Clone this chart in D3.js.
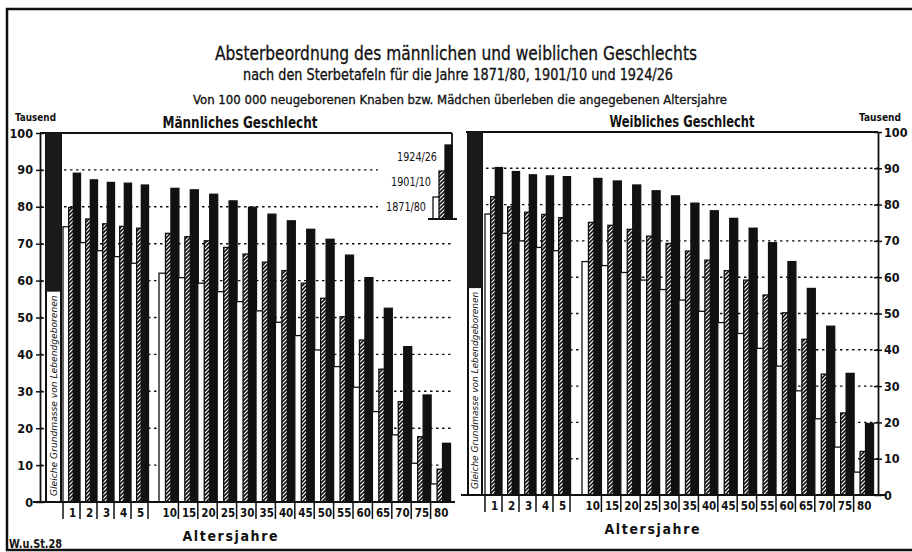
<!DOCTYPE html>
<html>
<head>
<meta charset="utf-8">
<script src="https://cdn.jsdelivr.net/npm/d3@7"></script>
<style>
  body { margin: 0; background: #fff; }
  svg { display: block; font-family: "DejaVu Sans Condensed", "DejaVu Sans", sans-serif; font-stretch: condensed; }
</style>
</head>
<body>
<svg></svg>
<script>
// ages shown under the bars, first five are single years
const ages = ["1", "2", "3", "4", "5", "10", "15", "20", "25", "30", "35", "40", "45", "50", "55", "60", "65", "70", "75", "80"];
const periods = ["1871/80", "1901/10", "1924/26"];
const yTicks = [0, 10, 20, 30, 40, 50, 60, 70, 80, 90, 100];

// survivors in thousand out of 100 000 newborn
const male1871 = [74.6, 70.3, 68.1, 66.5, 64.7, 62.0, 60.8, 59.3, 57.0, 54.3, 51.8, 48.7, 45.1, 41.2, 36.7, 31.1, 24.5, 18.2, 10.5, 4.9];
const male1901 = [79.8, 76.7, 75.4, 74.7, 74.2, 72.8, 71.9, 70.8, 69.0, 67.2, 65.0, 62.7, 59.3, 55.2, 50.2, 43.9, 36.0, 27.2, 17.7, 8.9];
const male1924 = [89.1, 87.3, 86.6, 86.4, 85.9, 85.0, 84.6, 83.4, 81.6, 79.9, 78.0, 76.2, 73.9, 71.2, 66.9, 60.8, 52.5, 42.1, 29.0, 15.9];

const female1871 = [77.4, 72.1, 70.0, 68.2, 67.3, 64.3, 63.2, 61.3, 59.2, 56.6, 53.7, 50.6, 47.5, 44.5, 40.4, 35.5, 28.7, 21.0, 13.2, 6.3];
const female1901 = [82.2, 79.4, 77.9, 77.3, 76.4, 75.1, 74.3, 73.2, 71.3, 69.3, 67.2, 64.7, 61.8, 59.2, 55.1, 50.2, 42.9, 33.3, 22.6, 12.0];
const female1924 = [90.2, 89.1, 88.2, 87.9, 87.7, 87.2, 86.5, 85.4, 83.8, 82.4, 80.4, 78.3, 76.2, 73.5, 69.5, 64.3, 56.9, 46.5, 33.5, 19.7];

const birthValue = 100;

const width = 912;
const height = 552;
const ink = "#111";

const svg = d3.select("svg").attr("width", width).attr("height", height);

const defs = svg.append("defs");
const hatch = defs.append("pattern")
  .attr("id", "hatch")
  .attr("patternUnits", "userSpaceOnUse")
  .attr("width", 4)
  .attr("height", 4);
hatch.append("rect").attr("width", 4).attr("height", 4).attr("fill", "#fff");
hatch.append("path")
  .attr("d", "M-1,1 l2,-2 M0,4 l4,-4 M3,5 l2,-2")
  .attr("stroke", ink)
  .attr("stroke-width", 1.6);

const fills = ["#fff", "url(#hatch)", ink];

const panels = [
  {
    title: "Männliches Geschlecht",
    titleX: 240, titleY: 128, titleLen: 155,
    series: [male1871, male1901, male1924],
    y: d3.scaleLinear().domain([0, 100]).range([502, 133]),
    axisX: 40, side: "left",
    birth: [46, 61],
    bandA: d3.scaleBand().domain(ages.slice(0, 5)).range([63, 148]),
    bandB: d3.scaleBand().domain(ages.slice(5)).range([159, 450]),
    base: [33, 455],
    grid: [40, 452],
    gridShort: 378,
    frameTop: [40, 452],
    labelX: 230
  },
  {
    title: "Weibliches Geschlecht",
    titleX: 682, titleY: 127, titleLen: 145,
    series: [female1871, female1901, female1924],
    y: d3.scaleLinear().domain([0, 100]).range([495, 132]),
    axisX: 878, side: "right",
    birth: [468, 482],
    bandA: d3.scaleBand().domain(ages.slice(0, 5)).range([485, 570]),
    bandB: d3.scaleBand().domain(ages.slice(5)).range([582, 873]),
    base: [461, 886],
    grid: [468, 878],
    gridShort: null,
    frameTop: [466, 878],
    labelX: 652
  }
];

const sub = d3.scaleBand().domain(periods).range([0, 1]);

function groupX(p, age) {
  return p.bandA.domain().includes(age) ? p.bandA : p.bandB;
}

function drawFrame() {
  svg.append("path")
    .attr("d", "M915,9 L7,9 L7,550 L915,550")
    .attr("fill", "none")
    .attr("stroke", ink)
    .attr("stroke-width", 2.5);
}

function drawTitles() {
  const t = [
    { text: "Absterbeordnung des männlichen und weiblichen Geschlechts", x: 456, y: 60, size: 20, len: 482 },
    { text: "nach den Sterbetafeln für die Jahre 1871/80, 1901/10 und 1924/26", x: 458, y: 80, size: 15, len: 430 },
    { text: "Von 100 000 neugeborenen Knaben bzw. Mädchen überleben die angegebenen Altersjahre", x: 460, y: 104, size: 12, len: 534 }
  ];
  svg.selectAll(".title")
    .data(t)
    .enter()
    .append("text")
    .attr("class", "title")
    .attr("x", (d) => d.x)
    .attr("y", (d) => d.y)
    .attr("text-anchor", "middle")
    .attr("font-size", (d) => d.size)
    .attr("textLength", (d) => d.len)
    .attr("lengthAdjust", "spacingAndGlyphs")
    .attr("fill", ink)
    .attr("stroke", ink)
    .attr("stroke-width", 0.3)
    .text((d) => d.text);

  svg.append("text").attr("x", 15).attr("y", 121).attr("font-size", 11).attr("font-weight", "bold")
    .attr("textLength", 41).attr("lengthAdjust", "spacingAndGlyphs").attr("fill", ink).text("Tausend");
  svg.append("text").attr("x", 859).attr("y", 121).attr("font-size", 11).attr("font-weight", "bold")
    .attr("textLength", 42).attr("lengthAdjust", "spacingAndGlyphs").attr("fill", ink).text("Tausend");
  svg.append("text").attr("x", 9).attr("y", 548).attr("font-size", 12).attr("font-weight", "bold")
    .attr("textLength", 53).attr("lengthAdjust", "spacingAndGlyphs").attr("fill", ink).text("W.u.St.28");
}

function drawPanel(p) {
  const g = svg.append("g");
  const y = p.y;
  const y0 = y(0);

  // dotted guide lines
  g.selectAll(".grid")
    .data(yTicks.filter((v) => v > 0 && v < 100))
    .enter()
    .append("line")
    .attr("x1", p.grid[0])
    .attr("x2", (d) => (p.gridShort && d >= 80 ? p.gridShort : p.grid[1]))
    .attr("y1", (d) => y(d))
    .attr("y2", (d) => y(d))
    .attr("stroke", ink)
    .attr("stroke-width", 1.4)
    .attr("stroke-dasharray", "2.5,3.5");

  // top frame line
  g.append("line")
    .attr("x1", p.frameTop[0]).attr("x2", p.frameTop[1])
    .attr("y1", y(100)).attr("y2", y(100))
    .attr("stroke", ink).attr("stroke-width", 1.8);

  // newborn bar
  g.append("rect")
    .attr("x", p.birth[0])
    .attr("y", y(birthValue))
    .attr("width", p.birth[1] - p.birth[0])
    .attr("height", y0 - y(birthValue))
    .attr("fill", "#fff")
    .attr("stroke", ink)
    .attr("stroke-width", 2);
  g.append("rect")
    .attr("x", p.birth[0])
    .attr("y", y(birthValue))
    .attr("width", p.birth[1] - p.birth[0])
    .attr("height", y(57) - y(birthValue))
    .attr("fill", "#1a1a1a");
  const bx = (p.birth[0] + p.birth[1]) / 2 + 3;
  g.append("text")
    .attr("transform", `translate(${bx},${y0 - 6}) rotate(-90)`)
    .attr("font-size", 8)
    .attr("font-style", "italic")
    .attr("textLength", y0 - 6 - y(56))
    .attr("lengthAdjust", "spacingAndGlyphs")
    .attr("fill", ink)
    .text("Gleiche Grundmasse von Lebendgeborenen");

  // bars
  const rows = ages.flatMap((age, i) =>
    periods.map((period, j) => ({ age, period, j, value: p.series[j][i] }))
  );

  g.selectAll(".bar")
    .data(rows)
    .enter()
    .append("rect")
    .attr("class", "bar")
    .attr("x", (d) => {
      const b = groupX(p, d.age);
      return b(d.age) + sub(d.period) * b.bandwidth() - (d.j === 2 ? 1 : 0);
    })
    .attr("width", (d) => groupX(p, d.age).bandwidth() * sub.bandwidth() + (d.j === 2 ? 1.5 : 0.5))
    .attr("y", (d) => y(d.value))
    .attr("height", (d) => y0 - y(d.value))
    .attr("fill", (d) => fills[d.j])
    .attr("stroke", ink)
    .attr("stroke-width", 1.3);

  // baseline
  g.append("line")
    .attr("x1", p.base[0]).attr("x2", p.base[1])
    .attr("y1", y0).attr("y2", y0)
    .attr("stroke", ink).attr("stroke-width", 2.2);

  // y axis
  const axis = (p.side === "left" ? d3.axisLeft(y) : d3.axisRight(y))
    .tickValues(yTicks)
    .tickSizeInner(4)
    .tickSizeOuter(0)
    .tickPadding(p.side === "left" ? 3 : 2);
  const ax = g.append("g")
    .attr("transform", `translate(${p.axisX},0)`)
    .call(axis);
  ax.select(".domain").attr("stroke", ink).attr("stroke-width", 1.8);
  ax.selectAll(".tick line")
    .attr("x1", p.side === "left" ? 4 : -4)
    .attr("stroke", ink)
    .attr("stroke-width", 1.5);
  ax.selectAll(".tick text")
    .attr("font-family", '"DejaVu Sans Condensed", "DejaVu Sans", sans-serif')
    .attr("font-size", 12.5)
    .attr("font-weight", "bold")
    .attr("fill", ink);

  // age labels with separators
  const seps = p.bandA.domain().map((a) => p.bandA(a))
    .concat([p.bandA.range()[1]])
    .concat(p.bandB.domain().slice(1).map((a) => p.bandB(a)));
  g.selectAll(".sep")
    .data(seps)
    .enter()
    .append("line")
    .attr("x1", (d) => d).attr("x2", (d) => d)
    .attr("y1", y0 + 1).attr("y2", y0 + 17)
    .attr("stroke", ink).attr("stroke-width", 1.5);

  g.selectAll(".age")
    .data(ages)
    .enter()
    .append("text")
    .attr("x", (d) => groupX(p, d)(d) + groupX(p, d).bandwidth() / 2 + 1)
    .attr("y", y0 + 15)
    .attr("text-anchor", "middle")
    .attr("font-size", 11.5)
    .attr("font-weight", "bold")
    .attr("fill", ink)
    .text((d) => d);

  g.append("text")
    .attr("x", p.labelX)
    .attr("y", y0 + 39)
    .attr("text-anchor", "middle")
    .attr("font-size", 14)
    .attr("font-weight", "bold")
    .attr("textLength", 95)
    .attr("lengthAdjust", "spacing")
    .attr("fill", ink)
    .text("Altersjahre");

  g.append("text")
    .attr("x", p.titleX)
    .attr("y", p.titleY)
    .attr("text-anchor", "middle")
    .attr("font-size", 16)
    .attr("font-weight", "bold")
    .attr("textLength", p.titleLen)
    .attr("lengthAdjust", "spacingAndGlyphs")
    .attr("fill", ink)
    .text(p.title);
}

function drawLegend() {
  const p = panels[0];
  const base = 219;
  const lx = d3.scaleBand().domain(periods).range([433, 451]);
  const tops = [197, 171, 145];
  svg.append("g")
    .selectAll("rect")
    .data(periods)
    .enter()
    .append("rect")
    .attr("x", (d) => lx(d))
    .attr("width", lx.bandwidth() + 1)
    .attr("y", (d, i) => tops[i])
    .attr("height", (d, i) => base - tops[i])
    .attr("fill", (d, i) => fills[i])
    .attr("stroke", ink)
    .attr("stroke-width", 1.3);

  svg.append("line").attr("x1", 428).attr("x2", 457).attr("y1", base).attr("y2", base)
    .attr("stroke", ink).attr("stroke-width", 2);
  // right edge of the men's frame
  svg.append("line").attr("x1", 452).attr("x2", 452).attr("y1", p.y(100)).attr("y2", base)
    .attr("stroke", ink).attr("stroke-width", 1.8);

  const labelEnds = [426, 431, 437];
  const labelYs = [211, 186, 161];
  svg.selectAll(".leg")
    .data(periods)
    .enter()
    .append("text")
    .attr("x", (d, i) => labelEnds[i])
    .attr("y", (d, i) => labelYs[i])
    .attr("text-anchor", "end")
    .attr("font-size", 12)
    .attr("textLength", 40)
    .attr("lengthAdjust", "spacingAndGlyphs")
    .attr("fill", ink)
    .text((d) => d);
}

drawFrame();
drawTitles();
panels.forEach(drawPanel);
drawLegend();
</script>
</body>
</html>
